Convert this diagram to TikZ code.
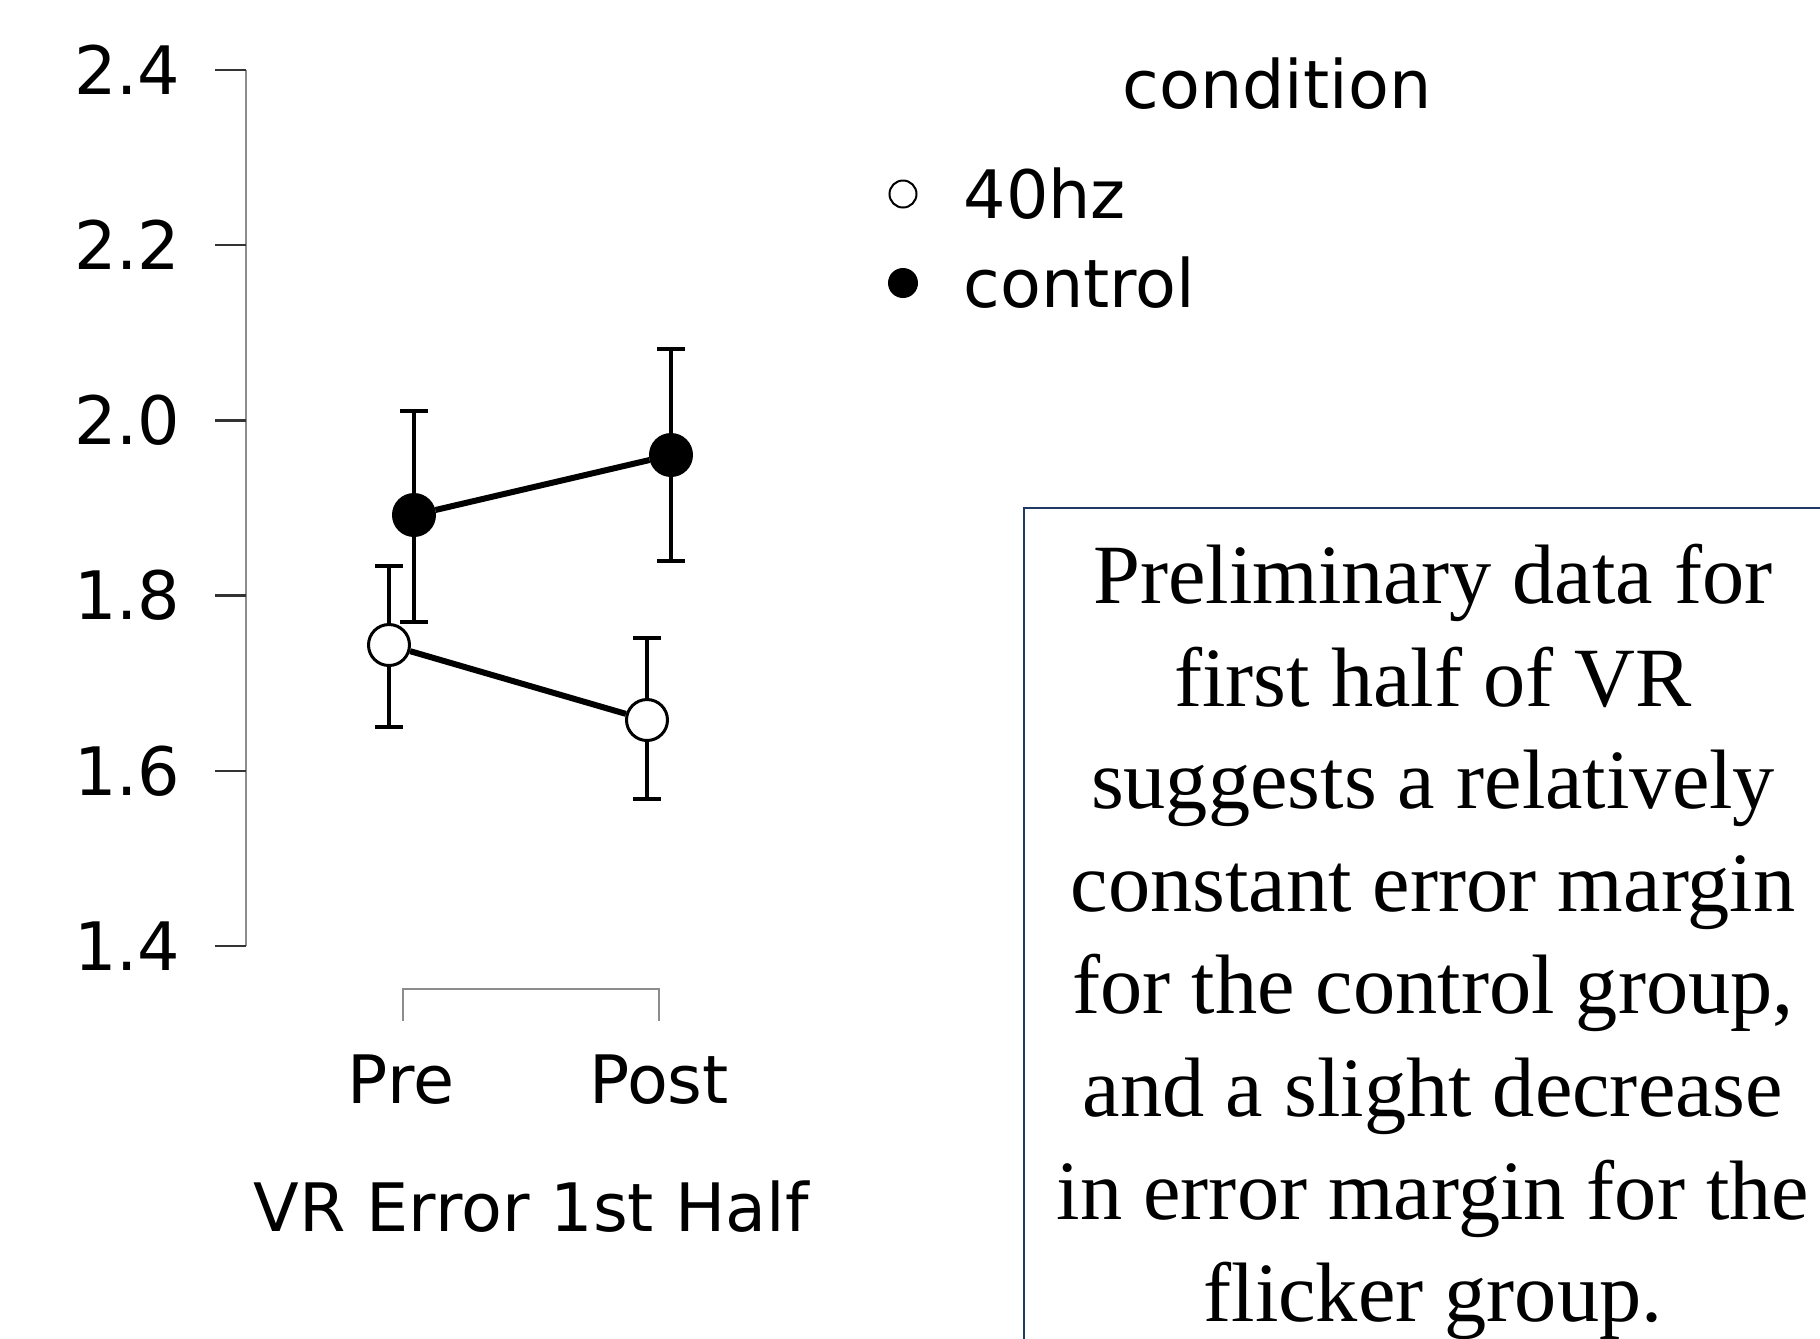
\documentclass[tikz,border=0pt]{standalone}
\usepackage{fontspec}
\setmainfont{Liberation Serif}
\newfontfamily\plotfont{DejaVu Sans}
\usetikzlibrary{calc}
\definecolor{boxblue}{RGB}{31,56,100}
\def\errbar(#1,#2,#3){\draw[bar] (#1,#2) -- (#1,#3); \draw[bar] (#1-0.14,#2) -- (#1+0.14,#2); \draw[bar] (#1-0.14,#3) -- (#1+0.14,#3);}

\begin{document}
\begin{tikzpicture}[
		bar/.style={line width=0.4mm, color=black},
		trend/.style={line width=0.6mm, color=black},
		flick/.style={circle, draw, line width=0.3mm, fill=white, minimum size=0.41cm, inner sep=0pt},
		ctrl/.style={circle, draw, line width=0.3mm, fill=black, minimum size=0.41cm, inner sep=0pt},
		plottext/.style={font=\plotfont\fontsize{19}{23}\selectfont, inner sep=0pt}
	]
			%%%%% START %%%%%
			\useasboundingbox (0, 0) rectangle (18.2, -13.38);
			\clip (0, 0) rectangle (18.2, -13.38);
			
			% y axis
			\draw[line width=0.2mm, color=black!45] (2.46, -0.70) -- (2.46, -9.46);
			\foreach \lab [count=\k] in {2.4,2.2,2.0,1.8,1.6,1.4} {
				\draw[line width=0.25mm, color=black!80] (2.15, {-0.70-(\k-1)*1.752}) -- (2.46, {-0.70-(\k-1)*1.752});
				\node[plottext, anchor=east] (tick\k) at (1.81, {-0.70-(\k-1)*1.752}) {\lab};
			}
			
			% x axis
			\draw[line width=0.2mm, color=black!45] (4.03, -10.21) -- (4.03, -9.89) -- (6.59, -9.89) -- (6.59, -10.21);
			\node[plottext] (pre) at (4.01, -10.80) {Pre};
			\node[plottext] (post) at (6.59, -10.80) {Post};
			\node[plottext] (xtitle) at (5.31, -12.07) {VR Error 1st Half};
			
			% error bars
			\errbar(4.14,-4.11,-6.22)
			\errbar(6.71,-3.49,-5.61)
			\errbar(3.89,-5.66,-7.27)
			\errbar(6.47,-6.38,-7.99)
			
			% means
			\node[ctrl] (cpre) at (4.14, -5.15) {};
			\node[ctrl] (cpost) at (6.71, -4.55) {};
			\node[flick] (fpre) at (3.89, -6.45) {};
			\node[flick] (fpost) at (6.47, -7.20) {};
			\draw[trend] (cpre) -- (cpost);
			\draw[trend] (fpre) -- (fpost);
			
			% legend
			\node[plottext] (legtitle) at (12.77, -0.84) {condition};
			\node[circle, draw, line width=0.2mm, minimum size=0.27cm, inner sep=0pt] (legflick) at (9.03, -1.94) {};
			\node[circle, fill=black, minimum size=0.30cm, inner sep=0pt] (legctrl) at (9.03, -2.83) {};
			\node[plottext, anchor=west] (legflicktext) at (9.63, -1.94) {40hz};
			\node[plottext, anchor=west] (legctrltext) at (9.63, -2.83) {control};
			
			% comment box
			\draw[line width=0.2mm, color=boxblue] (10.24, -13.6) -- (10.24, -5.08) -- (18.5, -5.08);
			\node[align=center, inner sep=0pt, font=\fontsize{24}{29.2}\selectfont] (note) at (14.33, -9.42)
				{Preliminary data for\\first half of VR\\suggests a relatively\\constant error margin\\for the control group,\\and a slight decrease\\in error margin for the\\flicker group.};
			
			%%%%% END %%%%%
\end{tikzpicture}
\end{document}
